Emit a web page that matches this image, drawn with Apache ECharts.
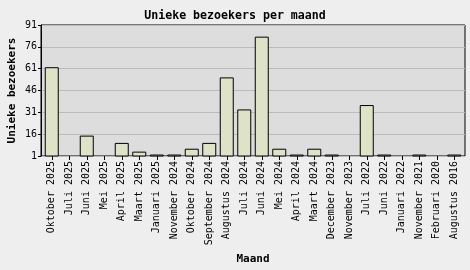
<!DOCTYPE html>
<html>
<head>
<meta charset="utf-8">
<script src="https://cdn.jsdelivr.net/npm/echarts@6/dist/echarts.min.js"></script>
<style>html,body{margin:0;padding:0;background:#eeeeee;}#c{width:470px;height:270px;}</style>
</head>
<body>
<div id="c"></div>
<script>
const categories = ['Oktober 2025','Juli 2025','Juni 2025','Mei 2025','April 2025','Maart 2025','Januari 2025','November 2024','Oktober 2024','September 2024','Augustus 2024','Juli 2024','Juni 2024','Mei 2024','April 2024','Maart 2024','December 2023','November 2023','Juli 2022','Juni 2022','Januari 2022','November 2021','Februari 2020','Augustus 2016'];
const visitors = [62,1,15,1,10,4,2,2,6,10,55,33,83,6,2,6,2,1,36,2,1,2,1,2];
const yMin = 1, yMax = 91, yStep = 15;
const titleText = 'Unieke bezoekers per maand';
const yName = 'Unieke bezoekers';
const xName = 'Maand';

const FONT = '"DejaVu Sans Mono", monospace';
const chart = echarts.init(document.getElementById('c'), null, {renderer: 'canvas'});
chart.setOption({
  backgroundColor: '#eeeeee',
  animation: false,
  title: {
    text: titleText, left: 'center', top: 5,
    textStyle: {fontFamily: FONT, fontSize: 11.6, fontWeight: 'bold', color: '#000'}
  },
  grid: [
    {left: 41, right: 5, top: 25, bottom: 114, show: true, backgroundColor: '#dddddd', borderColor: '#000', borderWidth: 1, containLabel: false, outerBoundsMode: 'none'},
    {left: 43, right: 7, top: 25, bottom: 114, containLabel: false, outerBoundsMode: 'none'}
  ],
  xAxis: [
    {type: 'category', gridIndex: 0, data: categories, show: false},
    {type: 'category', gridIndex: 1, data: categories,
     name: xName, nameLocation: 'middle', nameGap: 98, nameMoveOverlap: false,
     nameTextStyle: {fontFamily: FONT, fontSize: 11, fontWeight: 'bold', color: '#000'},
     axisLine: {show: false},
     axisTick: {show: true, alignWithLabel: true, length: 4, lineStyle: {color: '#000'}},
     axisLabel: {rotate: 90, interval: 0, margin: 5, fontFamily: FONT, fontSize: 10, color: '#000'}
    }
  ],
  yAxis: [
    {type: 'value', gridIndex: 0, min: yMin, max: yMax, interval: yStep,
     name: yName, nameLocation: 'middle', nameGap: 23, nameRotate: 90, nameMoveOverlap: false,
     nameTextStyle: {fontFamily: FONT, fontSize: 11, fontWeight: 'bold', color: '#000'},
     axisLine: {show: true, lineStyle: {color: '#000'}},
     axisTick: {show: true, length: 3, lineStyle: {color: '#000'}},
     axisLabel: {margin: 4, fontFamily: FONT, fontSize: 10, color: '#000'},
     splitLine: {show: true, lineStyle: {color: '#bbbbbb', width: 1}}
    },
    {type: 'value', gridIndex: 1, min: yMin, max: yMax, interval: yStep, show: false, splitLine: {show: false}}
  ],
  series: [{
    type: 'bar', xAxisIndex: 1, yAxisIndex: 1, data: visitors, barWidth: 14,
    itemStyle: {color: '#dee3c8', borderColor: '#000', borderWidth: 1},
    clip: true
  }]
});
</script>
</body>
</html>
